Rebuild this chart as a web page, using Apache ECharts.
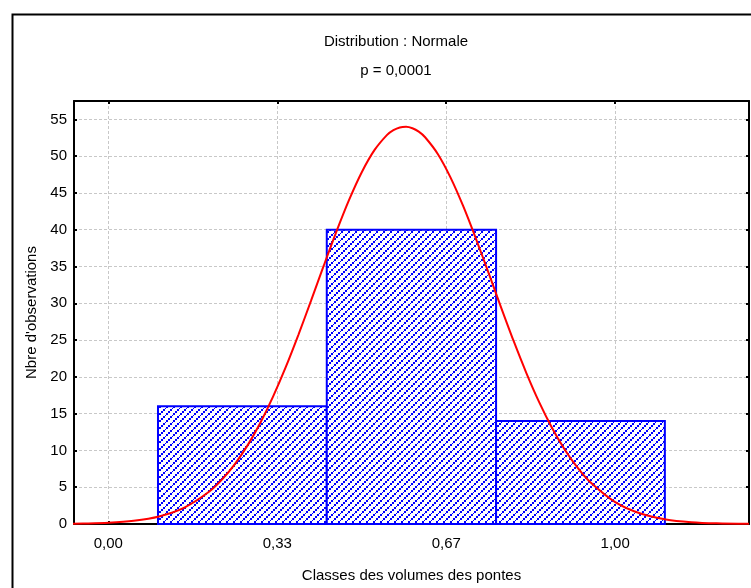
<!DOCTYPE html>
<html>
<head>
<meta charset="utf-8">
<title>Distribution : Normale</title>
<script src="https://cdn.jsdelivr.net/npm/echarts@6/dist/echarts.min.js"></script>
<style>
  html, body { margin: 0; padding: 0; background: #ffffff; }
  #chart { width: 751px; height: 588px; }
</style>
</head>
<body>
<div id="chart"></div>
<script>
// Histogram classes: lower and upper bounds of each class, and observed counts
const classLower = [0.098, 0.431, 0.765];
const classUpper = [0.431, 0.765, 1.098];
const classCounts = [16, 40, 14];

// Fitted normal curve (expected counts per class width), sampled along the axis
const curveX = [-0.07, -0.05, 0.00, 0.05, 0.10, 0.15, 0.20, 0.225, 0.25, 0.275, 0.30, 0.325, 0.35, 0.375,
                0.40, 0.425, 0.45, 0.475, 0.50, 0.525, 0.55, 0.5625, 0.575, 0.5875, 0.60, 0.6125, 0.625, 0.65,
                0.675, 0.70, 0.725, 0.75, 0.775, 0.80, 0.825, 0.85, 0.875, 0.90, 0.925, 0.95, 1.00, 1.05,
                1.10, 1.15, 1.20, 1.264];
const curveY = [0.04, 0.06, 0.17, 0.44, 1.03, 2.24, 4.46, 6.10, 8.18, 10.72, 13.77, 17.32, 21.32, 25.72,
                30.36, 35.11, 39.74, 44.05, 47.82, 50.82, 52.90, 53.54, 53.91, 54.00, 53.80, 53.33, 52.57, 50.30,
                47.12, 43.23, 38.83, 34.16, 29.42, 24.81, 20.49, 16.57, 13.12, 10.17, 7.72, 5.74, 2.98, 1.42,
                0.62, 0.25, 0.09, 0.02];

// Axis ticks
const xTicks = [0, 1 / 3, 2 / 3, 1];
const yTicks = [0, 5, 10, 15, 20, 25, 30, 35, 40, 45, 50, 55];

const FONT = '"Liberation Sans", Arial, sans-serif';
const FS = 15;

// Blue diagonal hatch ("/" stripes of beads) used to fill the bars
function makeHatch() {
  const c = document.createElement('canvas');
  c.width = 7; c.height = 7;
  const g = c.getContext('2d');
  g.fillStyle = '#ffffff';
  g.fillRect(0, 0, 7, 7);
  g.fillStyle = '#0000ff';
  g.fillRect(0, 5, 2, 2);
  g.fillRect(2, 3, 2, 2);
  g.fillRect(4, 2, 1, 1);
  g.fillRect(5, 0, 2, 2);
  return c;
}
const hatch = makeHatch();

const histData = classLower.map((lo, i) => [lo, classUpper[i], classCounts[i]]);
const curveData = curveX.map((x, i) => [x, curveY[i]]);

const fmtX = v => v.toFixed(2).replace('.', ',');

const chart = echarts.init(document.getElementById('chart'), null, { renderer: 'canvas' });

const baseX = {
  type: 'value',
  min: -0.0677,
  max: 1.264,
  axisLine: { show: true, onZero: false, lineStyle: { color: '#000', width: 2 } },
  axisTick: { show: true, inside: true, length: 3, customValues: xTicks, lineStyle: { color: '#000', width: 2 } },
  splitLine: { show: false }
};
const baseY = {
  type: 'value',
  min: 0,
  max: 57.5,
  axisLine: { show: true, onZero: false, lineStyle: { color: '#000', width: 2 } },
  axisTick: { show: true, inside: true, length: 3, customValues: yTicks, lineStyle: { color: '#000', width: 2 } },
  splitLine: { show: false }
};

chart.setOption({
  animation: false,
  backgroundColor: '#ffffff',
  title: [
    { text: 'Distribution : Normale', left: 391, top: 29, textAlign: 'center',
      textStyle: { fontFamily: FONT, fontSize: FS, fontWeight: 'normal', color: '#000' } },
    { text: 'p = 0,0001', left: 391, top: 58, textAlign: 'center',
      textStyle: { fontFamily: FONT, fontSize: FS, fontWeight: 'normal', color: '#000' } }
  ],
  graphic: [
    { type: 'rect', left: 10, top: 12, z: -1,
      shape: { width: 800, height: 620 },
      style: { fill: 'none', stroke: '#000', lineWidth: 2 } }
  ],
  grid: { left: 74, top: 101, right: 2, bottom: 61, containLabel: false },
  xAxis: [
    Object.assign({}, baseX, {
      position: 'bottom',
      name: 'Classes des volumes des pontes',
      nameLocation: 'middle',
      nameGap: 44,
      nameTextStyle: { fontFamily: FONT, fontSize: FS, color: '#000' },
      axisLabel: { customValues: xTicks, formatter: fmtX, margin: 12,
        fontFamily: FONT, fontSize: FS, color: '#000' },
      splitLine: { show: true, lineStyle: { color: '#c8c8c8', type: [3, 2], width: 1 } }
    }),
    Object.assign({}, baseX, { position: 'top', axisLabel: { show: false } })
  ],
  yAxis: [
    Object.assign({}, baseY, {
      position: 'left',
      name: "Nbre d'observations",
      nameLocation: 'middle',
      nameGap: 33,
      nameTextStyle: { fontFamily: FONT, fontSize: FS, color: '#000' },
      axisLabel: { customValues: yTicks, margin: 7,
        fontFamily: FONT, fontSize: FS, color: '#000' },
      splitLine: { show: true, lineStyle: { color: '#c8c8c8', type: [3, 2], width: 1 } }
    }),
    Object.assign({}, baseY, { position: 'right', axisLabel: { show: false } })
  ],
  series: [
    {
      type: 'custom',
      xAxisIndex: 0,
      yAxisIndex: 0,
      data: histData,
      encode: { x: [0, 1], y: 2 },
      renderItem: function (params, api) {
        const p0 = api.coord([api.value(0), api.value(2)]);
        const p1 = api.coord([api.value(1), 0]);
        return {
          type: 'rect',
          shape: { x: p0[0], y: p0[1], width: p1[0] - p0[0], height: p1[1] - p0[1] },
          style: { fill: { image: hatch, repeat: 'repeat' }, stroke: '#0000ff', lineWidth: 2 }
        };
      },
      z: 2
    },
    {
      type: 'line',
      xAxisIndex: 0,
      yAxisIndex: 0,
      data: curveData,
      smooth: 0.3,
      showSymbol: false,
      symbol: 'none',
      clip: true,
      lineStyle: { color: '#ff0000', width: 2 },
      z: 3
    }
  ]
});
</script>
</body>
</html>
